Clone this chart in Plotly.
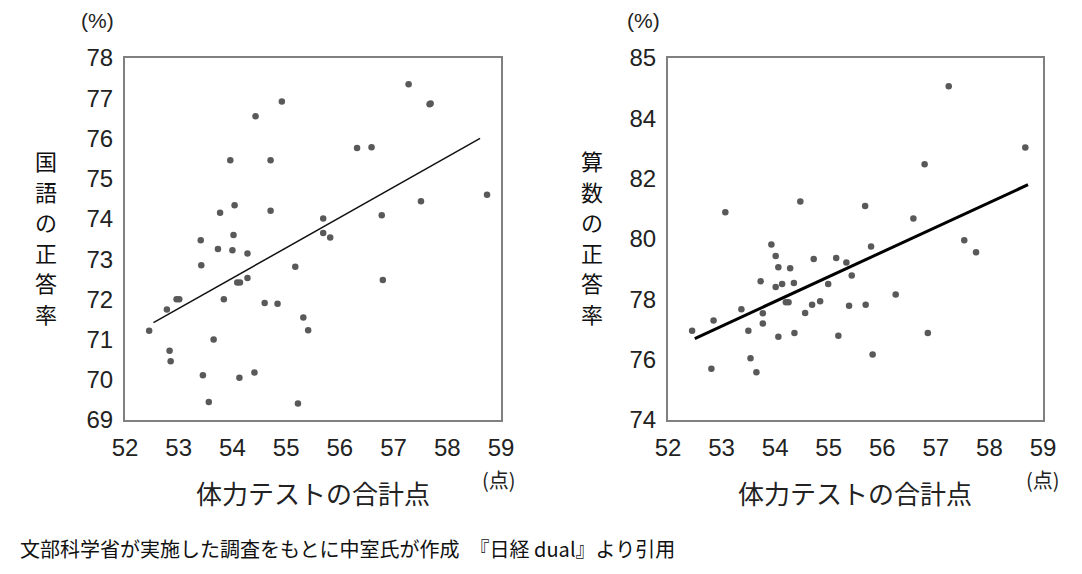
import plotly.graph_objects as go

# 左: 体力テストの合計点 と 国語の正答率
kokugo_x = [54.92, 54.43, 53.96, 54.71, 54.04, 53.77, 54.71, 55.69, 55.69, 55.82,
            53.41, 54.02, 53.73, 54.00, 54.28, 53.42, 54.09, 54.14, 54.28, 55.17,
            52.96, 53.01, 52.78, 53.84, 54.60, 54.84, 55.32, 55.41, 52.45, 53.65,
            52.83, 52.85, 53.45, 54.13, 54.41, 53.56, 55.22, 57.28, 57.67, 57.69,
            56.32, 56.59, 58.74, 57.51, 56.78, 56.80]
kokugo_y = [76.92, 76.55, 75.46, 75.46, 74.34, 74.15, 74.20, 74.01, 73.65, 73.54,
            73.47, 73.60, 73.25, 73.22, 73.14, 72.85, 72.42, 72.42, 72.53, 72.81,
            72.00, 72.00, 71.75, 72.00, 71.91, 71.89, 71.55, 71.23, 71.22, 71.00,
            70.72, 70.46, 70.11, 70.05, 70.18, 69.45, 69.41, 77.35, 76.85, 76.87,
            75.76, 75.78, 74.60, 74.44, 74.09, 72.48]
kokugo_trend_x = [52.53, 58.61]
kokugo_trend_y = [71.42, 76.00]

# 右: 体力テストの合計点 と 算数の正答率
sansu_x = [53.07, 54.47, 55.68, 53.93, 55.79, 54.01, 54.06, 54.28, 54.72, 55.14,
           55.33, 55.43, 53.73, 54.01, 54.13, 54.35, 54.99, 56.25, 54.20, 54.25,
           53.37, 53.77, 54.69, 54.84, 55.38, 55.69, 54.56, 52.85, 52.45, 53.50,
           53.77, 54.06, 54.36, 55.18, 53.54, 52.81, 53.65, 55.82, 57.24, 58.67,
           56.79, 56.58, 57.53, 57.75, 56.85]
sansu_y = [80.89, 81.24, 81.09, 79.82, 79.75, 79.44, 79.06, 79.03, 79.34, 79.37,
           79.22, 78.79, 78.60, 78.41, 78.51, 78.54, 78.51, 78.16, 77.90, 77.90,
           77.67, 77.54, 77.82, 77.94, 77.79, 77.82, 77.55, 77.30, 76.96, 76.96,
           77.20, 76.76, 76.88, 76.79, 76.05, 75.70, 75.58, 76.17, 85.06, 83.03,
           82.48, 80.68, 79.96, 79.56, 76.88]
sansu_trend_x = [52.50, 58.72]
sansu_trend_y = [76.70, 81.80]

x_ticks = [52, 53, 54, 55, 56, 57, 58, 59]
kokugo_ticks = [69, 70, 71, 72, 73, 74, 75, 76, 77, 78]
sansu_tickvals = [74, 76, 78, 80, 82, 84, 86]
sansu_ticktext = ["74", "76", "78", "80", "82", "84", "85"]

W, H = 1082, 574
OFF = 8  # ページ本体の余白ぶん


def px(x):
    return (x - OFF) / W


def py(y):
    return 1 - (y - OFF) / H


dot = dict(color="#595959", size=6.5)
num_font = dict(family="Liberation Sans", size=24, color="#222222")
jp = "Noto Sans CJK JP"

fig = go.Figure()
fig.add_trace(go.Scatter(x=kokugo_x, y=kokugo_y, mode="markers", marker=dot,
                         xaxis="x", yaxis="y"))
fig.add_trace(go.Scatter(x=kokugo_trend_x, y=kokugo_trend_y, mode="lines",
                         line=dict(color="#111111", width=1.5), xaxis="x", yaxis="y"))
fig.add_trace(go.Scatter(x=sansu_x, y=sansu_y, mode="markers", marker=dot,
                         xaxis="x2", yaxis="y2"))
fig.add_trace(go.Scatter(x=sansu_trend_x, y=sansu_trend_y, mode="lines",
                         line=dict(color="#000000", width=3), xaxis="x2", yaxis="y2"))

xcommon = dict(range=[52, 59], tickvals=x_ticks, showgrid=False, zeroline=False,
               showline=True, linecolor="#808080", linewidth=2, mirror=True,
               tickfont=num_font, ticklabelstandoff=5, automargin=False)
ycommon = dict(showgrid=False, zeroline=False, showline=True, linecolor="#808080",
               linewidth=2, mirror=True, tickfont=num_font, ticklabelstandoff=5,
               automargin=False)

fig.update_layout(
    width=W, height=H, margin=dict(l=0, r=0, t=0, b=0, autoexpand=False),
    paper_bgcolor="white", plot_bgcolor="white", showlegend=False,
    xaxis=dict(domain=[px(125), px(501)], anchor="y", **xcommon),
    yaxis=dict(domain=[py(420), py(58)], anchor="x", range=[69, 78],
               tickvals=kokugo_ticks, **ycommon),
    xaxis2=dict(domain=[px(668), px(1043)], anchor="y2", **xcommon),
    yaxis2=dict(domain=[py(420), py(58)], anchor="x2", range=[74, 86],
                tickvals=sansu_tickvals, ticktext=sansu_ticktext, **ycommon),
)

notes = []
# 縦書きの軸タイトル（1文字ずつ置く）
for title, cx in [("国語の正答率", 46), ("算数の正答率", 592)]:
    for i, ch in enumerate(title):
        notes.append(dict(text=ch, x=px(cx), y=py(160 + 30.5 * i),
                          font=dict(family=jp, size=22, color="#111111")))
for cx in [97, 643]:
    notes.append(dict(text="(%)", x=px(cx), y=py(20), font=dict(family="Liberation Sans", size=21, color="#222222")))
for cx in [313, 855]:
    notes.append(dict(text="体力テストの合計点", x=px(cx), y=py(492), font=dict(family=jp, size=26, color="#222222")))
for cx in [499, 1043]:
    notes.append(dict(text="(点)", x=px(cx), y=py(479), font=dict(family=jp, size=20, color="#222222")))
notes.append(dict(text="文部科学省が実施した調査をもとに中室氏が作成　『日経 dual』より引用",
                  x=px(18), y=py(548), xanchor="left",
                  font=dict(family=jp, size=20, color="#111111")))
for n in notes:
    n.setdefault("xanchor", "center")
    n.update(xref="paper", yref="paper", yanchor="middle", showarrow=False)
fig.update_layout(annotations=notes)

fig.write_html("out.html")
